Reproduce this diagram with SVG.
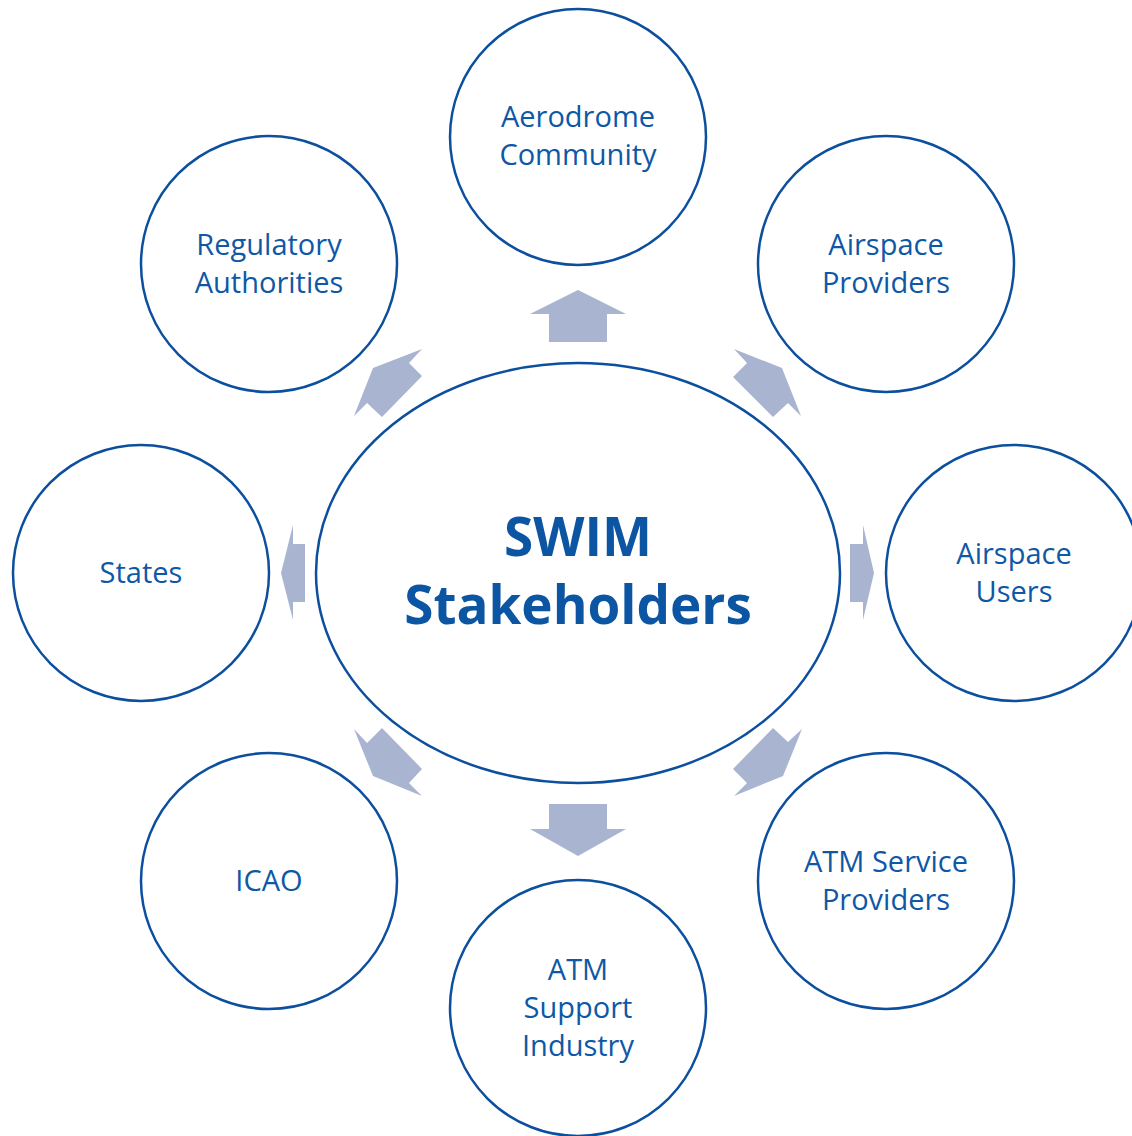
<svg xmlns="http://www.w3.org/2000/svg" width="1132" height="1136" viewBox="0 0 1132 1136">
<style>
.node{fill:#FFFFFF;stroke:#0B4F9E;stroke-width:2.5}
.lbl{font-family:"Open Sans","Noto Sans",sans-serif;font-size:29px;fill:#0E58A6;text-anchor:middle}
.title{font-family:"Open Sans","Noto Sans",sans-serif;font-size:53px;font-weight:bold;fill:#0B55A3;text-anchor:middle}
.arr{fill:#A9B4D1}
</style>
<rect width="1132" height="1136" fill="#FFFFFF"/>
<g id="connectors">
<polygon class="arr" points="578,290 626,314 607,314 607,342 549,342 549,314 530,314"/>
<polygon class="arr" points="578,856 626,829 607,829 607,804 549,804 549,829 530,829"/>
<polygon class="arr" points="874,573 863,525 863,544 850,544 850,602 863,602 863,620"/>
<polygon class="arr" points="281,573 293,525 293,544 305,544 305,602 293,602 293,620"/>
<polygon class="arr" points="734,349 747,363 733,377 773,417 788,403 801,416 782,368"/>
<polygon class="arr" points="773,728 788,742 802,729 783,776 734,796 747,783 733,769"/>
<polygon class="arr" points="354,729 367,743 382,728 422,769 409,783 422,796 373,776"/>
<polygon class="arr" points="422,349 409,363 422,376 382,417 367,403 354,416 373,368"/>
</g>
<g id="center">
<ellipse class="node" cx="578" cy="573" rx="262" ry="210"/>
<text class="title" x="578" y="556">SWIM</text>
<text class="title" x="578" y="624">Stakeholders</text>
</g>
<g id="aerodrome">
<circle class="node" cx="578" cy="137" r="128"/>
<text class="lbl" x="578" y="127">Aerodrome</text>
<text class="lbl" x="578" y="165">Community</text>
</g>
<g id="regulatory">
<circle class="node" cx="269" cy="264" r="128"/>
<text class="lbl" x="269" y="255">Regulatory</text>
<text class="lbl" x="269" y="293">Authorities</text>
</g>
<g id="airspace-providers">
<circle class="node" cx="886" cy="264" r="128"/>
<text class="lbl" x="886" y="255">Airspace</text>
<text class="lbl" x="886" y="293">Providers</text>
</g>
<g id="states">
<circle class="node" cx="141" cy="573" r="128"/>
<text class="lbl" x="141" y="583">States</text>
</g>
<g id="airspace-users">
<circle class="node" cx="1014" cy="573" r="128"/>
<text class="lbl" x="1014" y="564">Airspace</text>
<text class="lbl" x="1014" y="602">Users</text>
</g>
<g id="icao">
<circle class="node" cx="269" cy="881" r="128"/>
<text class="lbl" x="269" y="891">ICAO</text>
</g>
<g id="atm-service-providers">
<circle class="node" cx="886" cy="881" r="128"/>
<text class="lbl" x="886" y="872">ATM Service</text>
<text class="lbl" x="886" y="910">Providers</text>
</g>
<g id="atm-support-industry">
<circle class="node" cx="578" cy="1008" r="128"/>
<text class="lbl" x="578" y="980">ATM</text>
<text class="lbl" x="578" y="1018">Support</text>
<text class="lbl" x="578" y="1056">Industry</text>
</g>
</svg>
